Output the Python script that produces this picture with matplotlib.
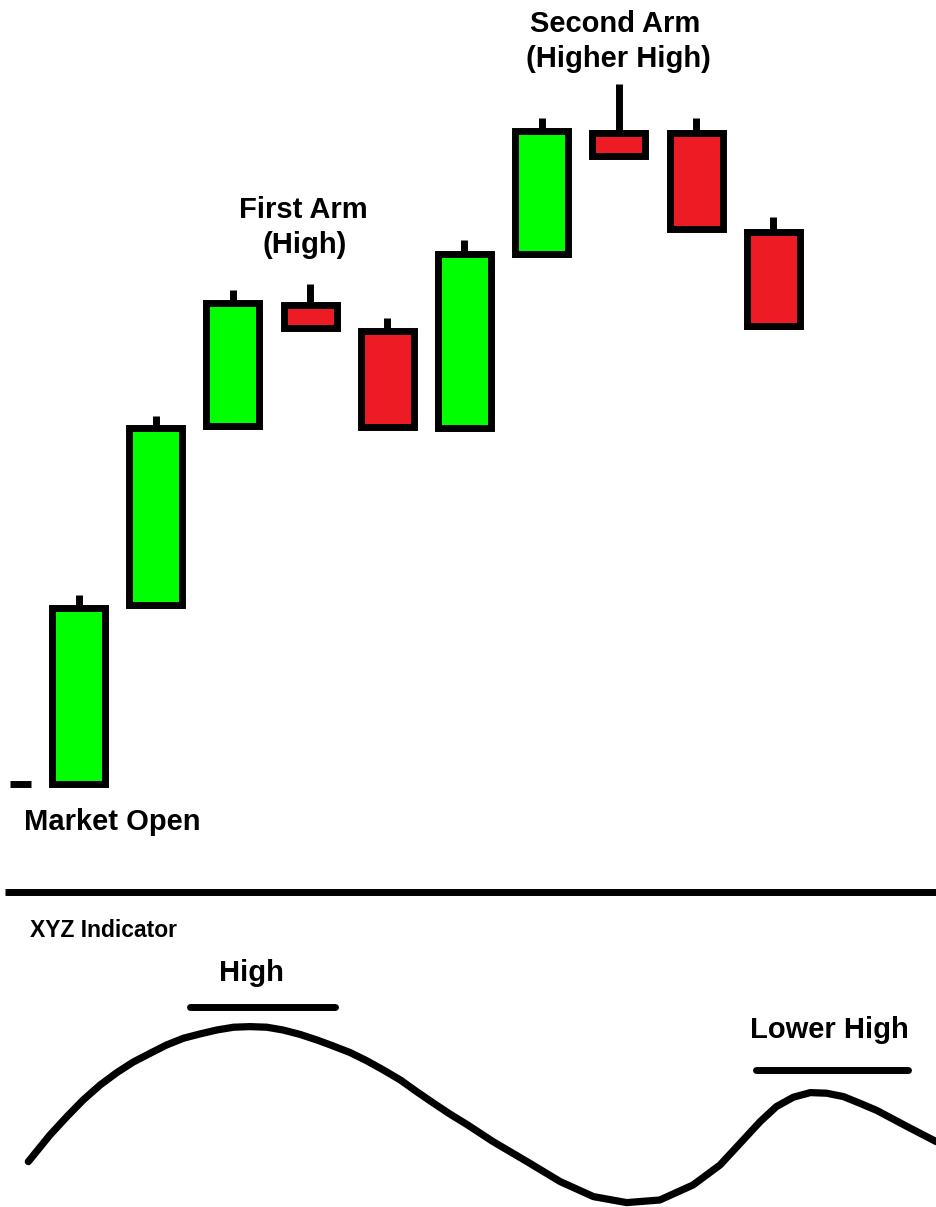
import matplotlib.pyplot as plt
import numpy as np

plt.rcParams['font.family'] = ['Liberation Sans', 'DejaVu Sans']

# candle data (price units), one candle per bar
opens = [9.6, 27.5, 45.4, 57.5, 54.9, 45.2, 62.6, 74.7, 74.7, 64.8]
closes = [27.2, 45.2, 57.7, 55.2, 45.3, 62.6, 74.9, 72.4, 65.1, 55.4]
highs = [28.5, 46.4, 59.0, 59.6, 56.2, 64.0, 76.2, 79.6, 76.2, 66.3]

# XYZ indicator readings (x in bars)
ind_x = [-0.65, -0.37, -0.15, 0.06, 0.28, 0.50, 0.71, 0.93, 1.14, 1.36,
         1.57, 1.79, 2.01, 2.22, 2.44, 2.65, 2.87, 3.09, 3.30, 3.52, 3.73,
         3.95, 4.17, 4.38, 4.60, 4.81, 5.03, 5.37, 5.81, 6.24, 6.67, 7.10,
         7.53, 7.96, 8.31, 8.61, 8.83, 9.04, 9.26, 9.48, 9.69, 9.91, 10.12,
         10.34, 10.55, 10.77, 11.11]
ind_y = [24.2, 37.5, 46.7, 55.0, 62.5, 68.8, 74.0, 78.4, 82.5, 85.9,
         88.0, 90.0, 91.4, 91.7, 91.4, 90.0, 87.8, 85.0, 82.0, 78.7, 74.7,
         70.0, 65.0, 59.2, 53.4, 48.0, 42.8, 34.2, 24.2, 14.2, 6.7, 3.7,
         5.0, 12.5, 22.5, 35.0, 44.2, 51.7, 56.4, 58.7, 58.4, 56.7, 53.4,
         49.8, 45.5, 41.0, 34.2]

GREEN = '#00ff00'
RED = '#ed1c24'

fig = plt.figure(figsize=(9.36, 12.07), dpi=100)
ax = fig.add_axes([0, 0.2709, 1, 0.7291])
ax2 = fig.add_axes([0, 0, 1, 0.2709])

xlim = (-1.017, 11.108)

# --- price panel ---
x = np.arange(len(opens))
o = np.array(opens)
c = np.array(closes)
colors = [GREEN if cc >= oo else RED for oo, cc in zip(o, c)]
body_top = np.maximum(o, c)

ax.vlines(x, body_top, highs, colors='black', linewidth=5, capstyle='butt', zorder=1)
ax.bar(x, c - o, width=0.687, bottom=o, color=colors, edgecolor='black',
       linewidth=5, zorder=2)

# market open marker
ax.hlines(opens[0], -0.89, -0.61, colors='black', linewidth=5, zorder=2)

ax.text(0.434, 5.8, 'Market Open', ha='center', va='center', fontsize=21,
        fontweight='bold')
ax.text(2.91, 67.0, 'First Arm', ha='center', va='center', fontsize=21,
        fontweight='bold')
ax.text(2.93, 63.5, '(High)', ha='center', va='center', fontsize=21,
        fontweight='bold')
ax.text(6.95, 85.6, 'Second Arm', ha='center', va='center', fontsize=21,
        fontweight='bold')
ax.text(7.0, 82.1, '(Higher High)', ha='center', va='center', fontsize=21,
        fontweight='bold')

ax.set_xlim(*xlim)
ax.set_ylim(0, 88)
ax.axis('off')

# --- indicator panel ---
ax2.plot(ind_x, ind_y, color='black', linewidth=5.2, solid_joinstyle='round',
         solid_capstyle='round')
ax2.hlines(159.25, -0.952, 11.2, colors='black', linewidth=5)
ax2.plot([1.45, 3.32], [101.5, 101.5], color='black', linewidth=5,
         solid_capstyle='round')
ax2.plot([8.78, 10.75], [70, 70], color='black', linewidth=5,
         solid_capstyle='round')

ax2.text(-0.63, 140, 'XYZ Indicator', ha='left', va='center', fontsize=16.5,
         fontweight='bold')
ax2.text(2.235, 118.5, 'High', ha='center', va='center', fontsize=21,
         fontweight='bold')
ax2.text(9.73, 90, 'Lower High', ha='center', va='center', fontsize=21,
         fontweight='bold')

ax2.set_xlim(*xlim)
ax2.set_ylim(1.5, 165)
ax2.axis('off')

fig.savefig('out.png', dpi=100)
